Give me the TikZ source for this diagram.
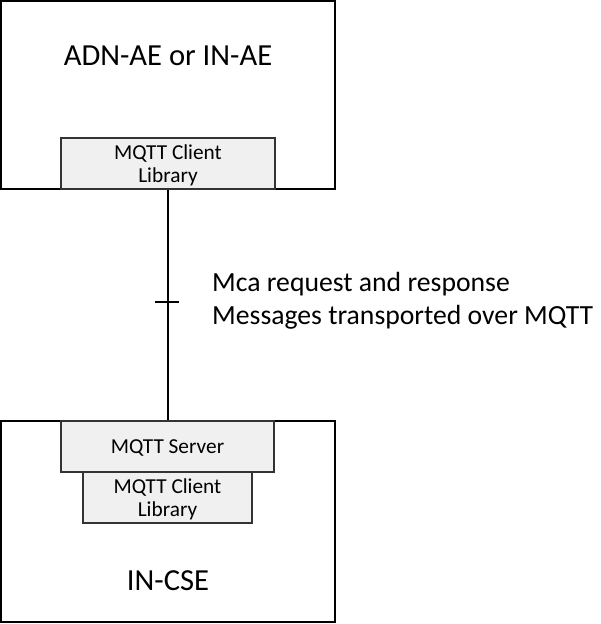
\documentclass[tikz,border=0pt]{standalone}
\usepackage{fontspec}
\setmainfont{Carlito}
\begin{document}
\begin{tikzpicture}[x=1pt,y=-1pt,
  outerbox/.style={draw=black,line width=2pt,rectangle,inner sep=0pt},
  libbox/.style={draw=black!80,line width=1.5pt,fill=black!6,rectangle,inner sep=0pt,align=center,text depth=0pt,font=\fontsize{21.3}{23.5}\selectfont},
  bigtext/.style={font=\fontsize{30.6}{36}\selectfont,inner sep=0pt},
  conn/.style={line width=1.5pt,black}]
\useasboundingbox (0,0) rectangle (600,624);
% top AE box
\node[outerbox,minimum width=334pt,minimum height=188pt] (top) at (168,95) {};
\node[bigtext] (topname) at (168,56) {ADN-AE or IN-AE};
\node[libbox,minimum width=214pt,minimum height=51pt] (topcl) at (168,163.5) {MQTT Client\\Library};
% bottom CSE box
\node[outerbox,minimum width=334pt,minimum height=201pt] (bot) at (168,521.5) {};
\node[bigtext] (botname) at (168,580.5) {IN-CSE};
\node[libbox,minimum width=213pt,minimum height=51pt] (srv) at (167.5,446.5) {MQTT Server};
\node[libbox,minimum width=169pt,minimum height=51pt] (botcl) at (167.5,497.5) {MQTT Client\\Library};
% connector
\draw[conn] (topcl.south) -- (topcl.south |- srv.north) coordinate (connend);
\coordinate (tick) at (167,302);
\draw[conn] ([xshift=-12pt]tick) -- ([xshift=12pt]tick);
\node[anchor=west,align=left,inner sep=0pt,font=\fontsize{27.7}{33}\selectfont] (lbl) at (212,301) {Mca request and response\\Messages transported over MQTT};
\end{tikzpicture}
\end{document}
